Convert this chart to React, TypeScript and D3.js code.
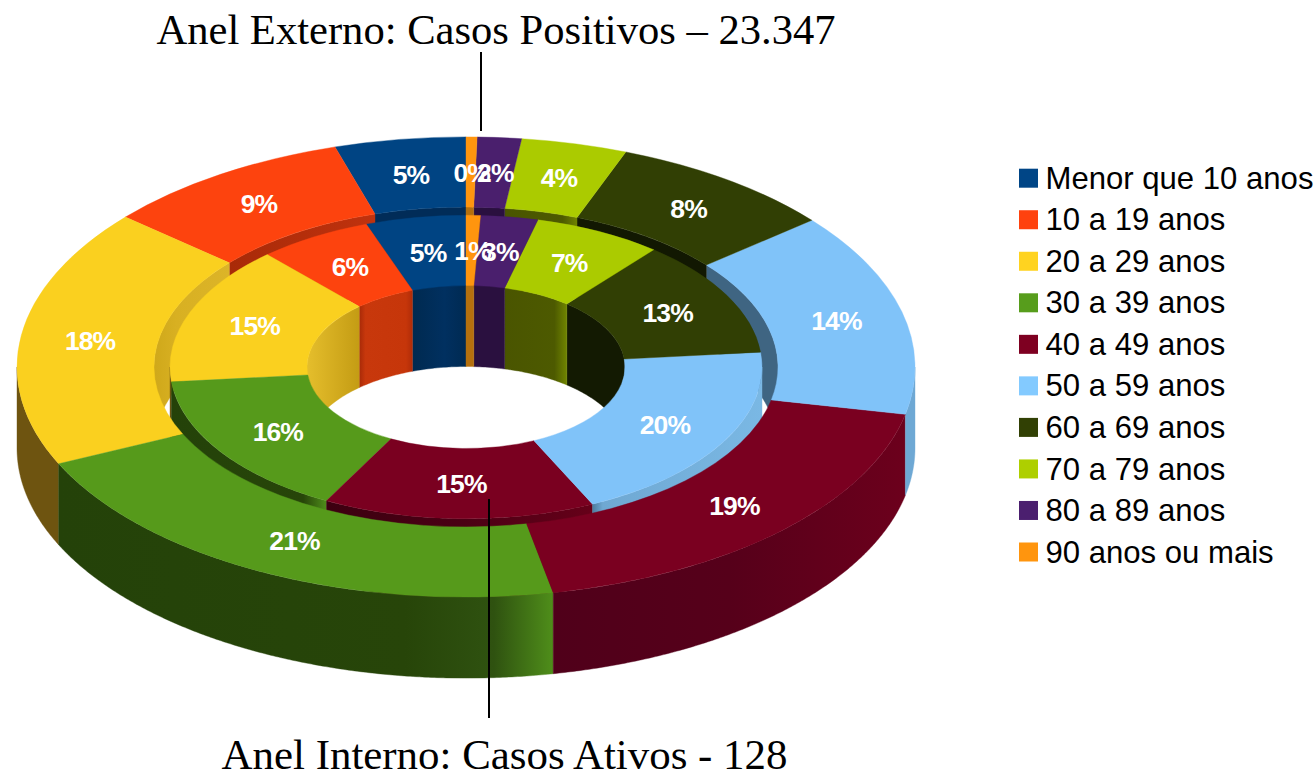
import React from "react";
import * as d3 from "d3";

const categories = ["Menor que 10 anos","10 a 19 anos","20 a 29 anos","30 a 39 anos","40 a 49 anos","50 a 59 anos","60 a 69 anos","70 a 79 anos","80 a 89 anos","90 anos ou mais"];
const positivos = [1100,2100,4250,4950,4340,3340,1915,890,370,92];
const ativos = [7,8,19,20,19,25,16,9,4,1];
const legendColors = ["#004586","#ff420e","#ffd320","#579d1c","#7e0021","#83caff","#314004","#aecf00","#4b1f6f","#ff950e"];
const colors = ["#004483","#fd430e","#fad01f","#569a1b","#7a0020","#80c3f9","#313f04","#abcb00","#4a1f6d","#ff950e"];
const titleTop = "Anel Externo: Casos Positivos – 23.347";
const titleBottom = "Anel Interno: Casos Ativos - 128";

type Stop = [number, string];
const outerFront: Record<number, Stop[]> = {
  2: [[0,"#6e5410"],[1,"#6e5410"]],
  3: [[0,"#244209"],[0.7,"#274509"],[0.88,"#2f5210"],[1,"#4f8e1a"]],
  4: [[0,"#50001a"],[0.5,"#56001a"],[1,"#6c001c"]],
  5: [[0,"#6ea8d4"],[1,"#6ea8d4"]],
};
const ringFront: Record<number, Stop[]> = {
  2: [[0,"#6e5410"],[1,"#6e5410"]],
  3: [[0,"#244209"],[0.85,"#274509"],[1,"#4f8e1a"]],
  4: [[0,"#3c0010"],[0.5,"#4a0014"],[1,"#660019"]],
  5: [[0,"#4c7c9e"],[0.06,"#6fa8d2"],[1,"#7ab8e4"]],
};
const holeBack: Record<number, Stop[]> = {
  0: [[0,"#002a50"],[0.6,"#013060"],[1,"#002a52"]],
  1: [[0,"#a82a08"],[0.12,"#c8380c"],[0.88,"#c6360a"],[1,"#b02c08"]],
  2: [[0,"#e5be2c"],[1,"#c49c14"]],
  5: [[0,"#3f6582"],[1,"#3f6582"]],
  6: [[0,"#131a02"],[1,"#131a02"]],
  7: [[0,"#4a5500"],[0.8,"#4d5a00"],[1,"#708500"]],
  8: [[0,"#2a103f"],[1,"#2a103f"]],
  9: [[0,"#b5700d"],[1,"#b5700d"]],
};
const ringBack: Record<number, Stop[]> = {
  0: [[0,"#012c58"],[1,"#012c58"]],
  1: [[0,"#a82a08"],[1,"#c0320e"]],
  2: [[0,"#cfa81a"],[0.3,"#d8b022"],[1,"#dcb428"]],
  5: [[0,"#3f6582"],[1,"#3f6582"]],
  6: [[0,"#121802"],[1,"#121802"]],
  7: [[0,"#4a5500"],[0.8,"#4d5a00"],[1,"#6f8200"]],
  8: [[0,"#2a103f"],[1,"#2a103f"]],
  9: [[0,"#b5700d"],[1,"#b5700d"]],
};

const cx = 466, cy = 367, k = 0.5125, h = 81;
const R = { outer: 449, outerIn: 312, ring: 296, hole: 159 };
const TAU = 2 * Math.PI;

const pie = d3.pie<number>().sort(null).startAngle(0).endAngle(-TAU);
const outerSlices = pie(positivos);
const innerSlices = pie(ativos);

const topArc = (r0: number, r1: number) => d3.arc<any>().innerRadius(r0).outerRadius(r1);
const lineGen = d3.line<[number, number]>();

function visibleSpan(a0: number, a1: number, part: "front" | "back") {
  const lo = Math.min(a0, a1), hi = Math.max(a0, a1);
  const spans: [number, number][] = part === "front"
    ? [[-1.5 * Math.PI, -0.5 * Math.PI]]
    : [[-0.5 * Math.PI, 0], [-TAU, -1.5 * Math.PI]];
  const out: [number, number][] = [];
  for (const [s, e] of spans) {
    const l = Math.max(lo, s), u = Math.min(hi, e);
    if (u > l) out.push([l, u]);
  }
  return out;
}

function wallPath(r: number, l: number, u: number) {
  const n = Math.max(2, Math.ceil((u - l) * r / 3));
  const angs = d3.range(n + 1).map(i => l + (u - l) * i / n);
  const top = angs.map(a => [cx + r * Math.sin(a), cy - r * k * Math.cos(a)] as [number, number]);
  const bot = angs.slice().reverse().map(a => [cx + r * Math.sin(a), cy + h - r * k * Math.cos(a)] as [number, number]);
  return lineGen([...top, ...bot]) + "Z";
}

function buildWalls(slices: d3.PieArcDatum<number>[], r: number, part: "front" | "back", table: Record<number, Stop[]>, id: string) {
  const items: { key: string; d: string; x0: number; x1: number; stops: Stop[] }[] = [];
  slices.forEach((s, i) => {
    visibleSpan(s.startAngle, s.endAngle, part).forEach(([l, u], j) => {
      const xa = cx + r * Math.sin(l), xb = cx + r * Math.sin(u);
      items.push({
        key: `${id}-${i}-${j}`,
        d: wallPath(r, l, u),
        x0: Math.min(xa, xb), x1: Math.max(xa, xb),
        stops: table[i] || [[0, colors[i]], [1, colors[i]]],
      });
    });
  });
  return items;
}

const layers = [
  buildWalls(outerSlices, R.outerIn, "back", ringBack, "rb"),
  buildWalls(innerSlices, R.hole, "back", holeBack, "hb"),
  buildWalls(innerSlices, R.ring, "front", ringFront, "rf"),
];
const frontLayer = buildWalls(outerSlices, R.outer, "front", outerFront, "of");

function Walls({ items }: { items: ReturnType<typeof buildWalls> }) {
  return (
    <>
      <defs>
        {items.map(w => (
          <linearGradient key={w.key} id={w.key} gradientUnits="userSpaceOnUse" x1={w.x0} x2={w.x1} y1={0} y2={0}>
            {w.stops.map(([o, c], i) => <stop key={i} offset={o} stopColor={c} />)}
          </linearGradient>
        ))}
      </defs>
      {items.map(w => <path key={w.key} d={w.d} fill={`url(#${w.key})`} stroke={`url(#${w.key})`} strokeWidth={0.4} />)}
    </>
  );
}

function Tops({ slices, r0, r1 }: { slices: d3.PieArcDatum<number>[]; r0: number; r1: number }) {
  const arc = topArc(r0, r1);
  return (
    <g transform={`translate(${cx},${cy}) scale(1,${k})`}>
      {slices.map((s, i) => (
        <path key={i} d={arc(s) as string} fill={colors[i]} stroke={colors[i]} strokeWidth={0.4} vectorEffect="non-scaling-stroke" />
      ))}
    </g>
  );
}

function Labels({ slices, r0, r1, total }: { slices: d3.PieArcDatum<number>[]; r0: number; r1: number; total: number }) {
  const rm = (r0 + r1) / 2;
  return (
    <>
      {slices.map((s, i) => {
        const a = (s.startAngle + s.endAngle) / 2;
        return (
          <text key={i} x={cx + 1 + rm * Math.sin(a)} y={cy - rm * k * Math.cos(a) + 9.5} textAnchor="middle"
            fill="#fff" fontFamily="Liberation Sans" fontWeight="bold" fontSize={26.5} letterSpacing={-0.9}>
            {d3.format(".0%")(s.value / total)}
          </text>
        );
      })}
    </>
  );
}

const legendY = d3.scalePoint<string>().domain(categories).range([178.2, 552]);

export default function App() {
  return (
    <svg width={1314} height={772} style={{ position: "absolute", left: 0, top: 0, display: "block", background: "#fff" }}>
      {layers.map((l, i) => <Walls key={i} items={l} />)}
      <Tops slices={innerSlices} r0={R.hole} r1={R.ring} />
      <Walls items={frontLayer} />
      <Tops slices={outerSlices} r0={R.outerIn} r1={R.outer} />
      <Labels slices={outerSlices} r0={R.outerIn} r1={R.outer} total={d3.sum(positivos)} />
      <Labels slices={innerSlices} r0={R.hole} r1={R.ring} total={d3.sum(ativos)} />
      <line x1={481} x2={481} y1={52} y2={131} stroke="#000" strokeWidth={2} />
      <line x1={489} x2={489} y1={499} y2={718} stroke="#000" strokeWidth={2} />
      <text x={496} y={44} textAnchor="middle" fontFamily="Liberation Serif" fontSize={42.6}>{titleTop}</text>
      <text x={504.5} y={769} textAnchor="middle" fontFamily="Liberation Serif" fontSize={42.9}>{titleBottom}</text>
      {categories.map((c, i) => (
        <g key={c}>
          <rect x={1019} y={legendY(c)! - 9.5} width={19} height={19} fill={legendColors[i]} />
          <text x={1045.5} y={legendY(c)! + 10.6} fontFamily="Liberation Sans" fontSize={31.1}>{c}</text>
        </g>
      ))}
    </svg>
  );
}
